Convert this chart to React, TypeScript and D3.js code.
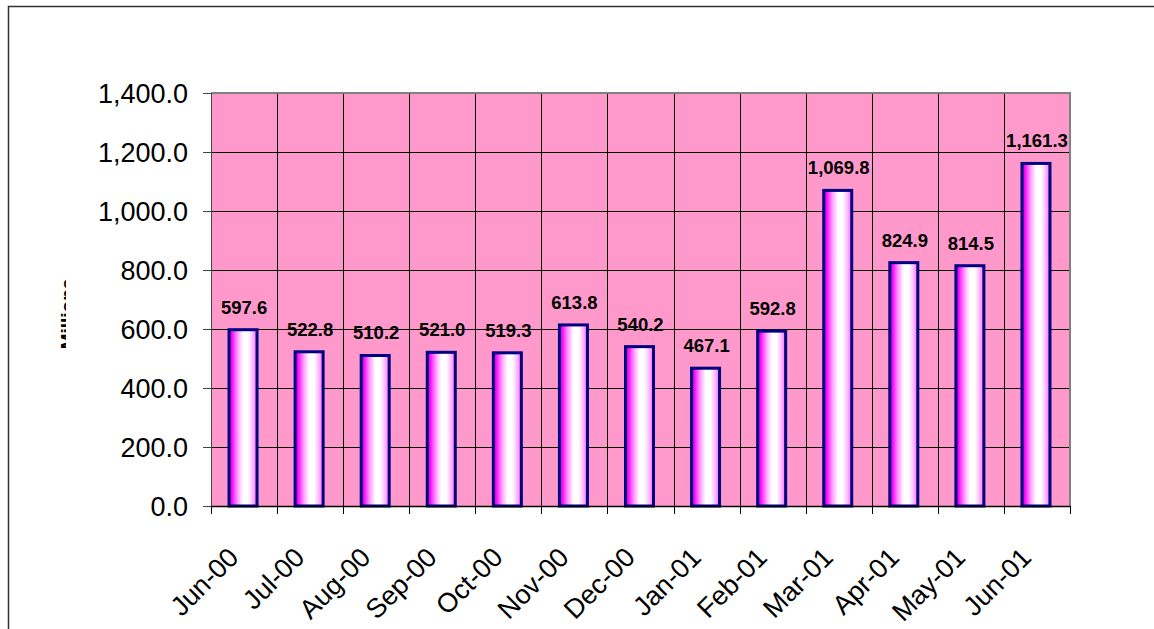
import React from "react";
import * as d3 from "d3";

const months = ["Jun-00","Jul-00","Aug-00","Sep-00","Oct-00","Nov-00","Dec-00","Jan-01","Feb-01","Mar-01","Apr-01","May-01","Jun-01"];
const values = [597.6, 522.8, 510.2, 521.0, 519.3, 613.8, 540.2, 467.1, 592.8, 1069.8, 824.9, 814.5, 1161.3];
const yTicks = [0, 200, 400, 600, 800, 1000, 1200, 1400];
const yTitle = "Millions";

const W = 1154, H = 629;
const left = 211, right = 1070, top = 93, bottom = 506;
const FONT = "'Liberation Sans', Arial, sans-serif";

export default function App() {
  const x = d3.scaleBand<string>().domain(months).range([left, right]).padding(0);
  const y = d3.scaleLinear().domain([0, 1400]).range([bottom, top]);
  const bw = 28;
  const fmtTick = d3.format(",.1f");
  const fmtVal = d3.format(",.1f");

  return (
    <svg width={W} height={H} style={{ position: "absolute", left: 0, top: 0, background: "#fff" }}>
      <defs>
        <linearGradient id="barGrad" x1="0" x2="1" y1="0" y2="0">
          <stop offset="0%" stopColor="#a000b8" />
          <stop offset="12%" stopColor="#ff10ff" />
          <stop offset="30%" stopColor="#ff99ff" />
          <stop offset="50%" stopColor="#ffffff" />
          <stop offset="68%" stopColor="#ffffff" />
          <stop offset="85%" stopColor="#ffb8ff" />
          <stop offset="100%" stopColor="#ff66ff" />
        </linearGradient>
        <clipPath id="titleClip" clipPathUnits="userSpaceOnUse">
          <rect x={58} y={270} width={8} height={90} />
        </clipPath>
      </defs>
      {/* outer border */}
      <rect x={8.5} y={6.5} width={1160} height={640} fill="none" stroke="#333" strokeWidth={1.5} />
      {/* plot background */}
      <rect x={left} y={top} width={right - left} height={bottom - top} fill="#ff99cc" />
      {/* horizontal gridlines */}
      {yTicks.map((t) => (
        <line key={"h" + t} x1={left} x2={right} y1={Math.round(y(t)) + 0.5} y2={Math.round(y(t)) + 0.5} stroke="#000" strokeWidth={1} />
      ))}
      {/* vertical gridlines */}
      {months.slice(1).map((m) => (
        <line key={"v" + m} x1={Math.round(x(m)!) + 0.5} x2={Math.round(x(m)!) + 0.5} y1={top} y2={bottom} stroke="#000" strokeWidth={1} />
      ))}
      {/* plot border top/right gray */}
      <line x1={left} x2={right + 1} y1={top} y2={top} stroke="#808080" strokeWidth={2} />
      <line x1={right} x2={right} y1={top} y2={bottom} stroke="#808080" strokeWidth={2} />
      {/* bars */}
      {months.map((m, i) => {
        const cx = x(m)! + x.bandwidth() / 2 - 1;
        const yt = y(values[i]);
        return (
          <g key={"b" + m}>
            <rect x={cx - bw / 2} y={yt} width={bw} height={bottom - yt} fill="url(#barGrad)" stroke="#000080" strokeWidth={3} />
            <text x={cx + 1} y={yt - 16} textAnchor="middle" fontFamily={FONT} fontWeight="bold" fontSize={18.5} fill="#000">
              {fmtVal(values[i])}
            </text>
          </g>
        );
      })}
      {/* axes */}
      <line x1={left + 0.5} x2={left + 0.5} y1={top} y2={bottom} stroke="#444" strokeWidth={1} />
      <line x1={left} x2={right} y1={bottom + 0.5} y2={bottom + 0.5} stroke="#000" strokeWidth={1.5} />
      {yTicks.map((t) => (
        <g key={"yt" + t}>
          <line x1={left - 8} x2={left} y1={Math.round(y(t)) + 0.5} y2={Math.round(y(t)) + 0.5} stroke="#444" strokeWidth={1} />
          <text x={left - 23} y={y(t)} dy="0.36em" textAnchor="end" fontFamily={FONT} fontSize={27} fill="#000">
            {fmtTick(t)}
          </text>
        </g>
      ))}
      {[...months.map((m) => x(m)!), right].map((px, i) => (
        <line key={"xt" + i} x1={Math.round(px) + 0.5} x2={Math.round(px) + 0.5} y1={bottom} y2={bottom + 8} stroke="#000" strokeWidth={1} />
      ))}
      {months.map((m) => {
        const cx = x(m)! + x.bandwidth() / 2;
        const px = cx - 4, py = 559;
        return (
          <text key={"xl" + m} x={px} y={py} textAnchor="end" fontFamily={FONT} fontSize={27} fill="#000" transform={`rotate(-45 ${px} ${py})`}>
            {m}
          </text>
        );
      })}
      {/* clipped y title */}
      <g clipPath="url(#titleClip)">
        <text x={0} y={0} transform="translate(74 314) rotate(-90)" textAnchor="middle" fontFamily={FONT} fontWeight="bold" fontSize={19} fill="#000">
          {yTitle}
        </text>
      </g>
    </svg>
  );
}
